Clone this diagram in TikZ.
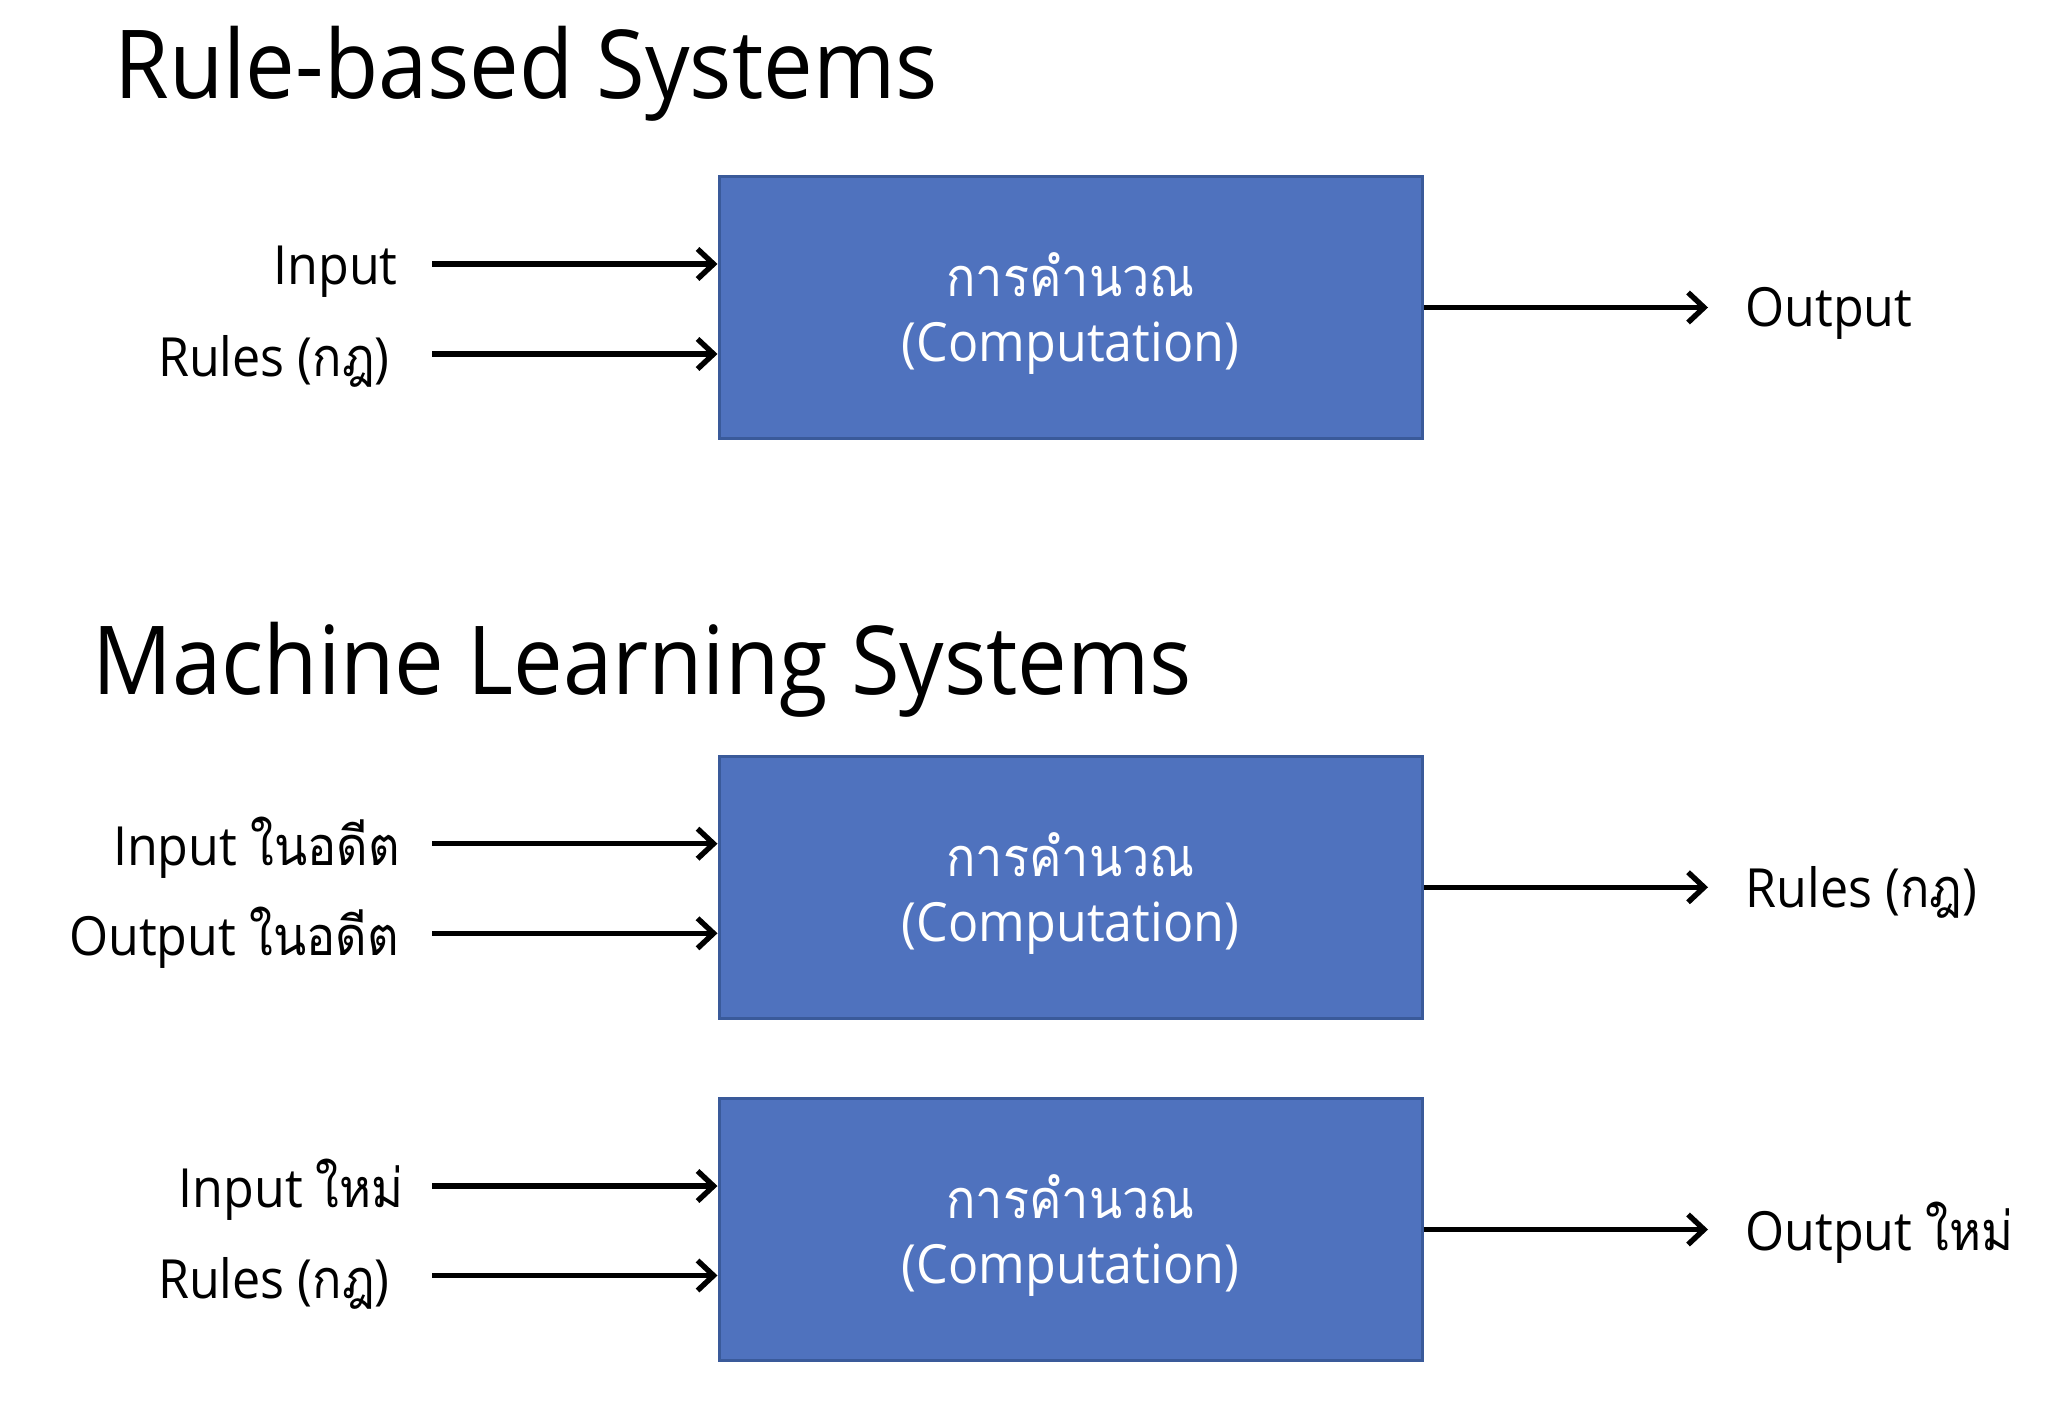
\documentclass[tikz,border=0pt]{standalone}
\usepackage{fontspec}
\setmainfont[FakeStretch=0.93]{Open Sans}
\newfontfamily\thai[Script=Thai,FakeStretch=0.9]{Loma}
\usetikzlibrary{arrows.meta}
\definecolor{boxfill}{HTML}{4F72BE}
\definecolor{boxline}{HTML}{3A5A9A}
\begin{document}
\begin{tikzpicture}[x=0.5pt,y=-0.5pt,
  title/.style={font=\fontsize{47.6pt}{57pt}\selectfont, anchor=base west, inner sep=0pt},
  lbl/.style={font=\fontsize{27pt}{32pt}\selectfont, inner sep=0pt},
  compbox/.style={draw=boxline, line width=1.5pt, fill=boxfill, minimum width=351.5pt, minimum height=131pt, inner sep=0pt},
  boxtext/.style={text=white, align=center, font=\fontsize{27pt}{32.5pt}\selectfont, inner sep=0pt},
  arr/.style={line width=2.7pt, -{Straight Barb[length=8pt,width=15pt,line width=2.7pt]}}]
\useasboundingbox (0,0) rectangle (2064,1406);

% titles
\node[title] (t1) at (114,99) {Rule-based Systems};
\node[title] (t2) at (92,694) {Machine Learning Systems};

% boxes
\node[compbox] (b1) at (1070.5,307.5) {};
\node[compbox] (b2) at (1070.5,887.25) {};
\node[compbox] (b3) at (1070.5,1229.5) {};
\node[boxtext] (c1) at ([yshift=-3pt]b1.center) {{\thai การคำนวณ}\\(Computation)};
\node[boxtext] (c2) at ([yshift=-3pt]b2.center) {{\thai การคำนวณ}\\(Computation)};
\node[boxtext] (c3) at ([yshift=-3pt]b3.center) {{\thai การคำนวณ}\\(Computation)};

% section 1
\node[lbl, anchor=base east] (l1a) at (398,285) {Input};
\node[lbl, anchor=base east] (l1b) at (390,377) {Rules ({\thai กฎ})};
\node[lbl, anchor=base west] (r1) at (1745,327) {Output};
\coordinate (s1a) at (432,264);
\coordinate (s1b) at (432,354);
\coordinate (e1) at (1708,307.5);
\draw[arr] (s1a) -- (s1a -| b1.west);
\draw[arr] (s1b) -- (s1b -| b1.west);
\draw[arr] (b1.east) -- (e1);

% section 2
\node[lbl, anchor=base east] (l2a) at (400,865) {Input {\thai ในอดีต}};
\node[lbl, anchor=base east] (l2b) at (399,955) {Output {\thai ในอดีต}};
\node[lbl, anchor=base west] (r2) at (1745,907) {Rules ({\thai กฎ})};
\coordinate (s2a) at (432,843.7);
\coordinate (s2b) at (432,933.3);
\coordinate (e2) at (1708,887.25);
\draw[arr] (s2a) -- (s2a -| b2.west);
\draw[arr] (s2b) -- (s2b -| b2.west);
\draw[arr] (b2.east) -- (e2);

% section 3
\node[lbl, anchor=base east] (l3a) at (404,1207) {Input {\thai ใหม่}};
\node[lbl, anchor=base east] (l3b) at (390,1298) {Rules ({\thai กฎ})};
\node[lbl, anchor=base west] (r3) at (1745,1250) {Output {\thai ใหม่}};
\coordinate (s3a) at (432,1186);
\coordinate (s3b) at (432,1275.5);
\coordinate (e3) at (1708,1229.5);
\draw[arr] (s3a) -- (s3a -| b3.west);
\draw[arr] (s3b) -- (s3b -| b3.west);
\draw[arr] (b3.east) -- (e3);
\end{tikzpicture}
\end{document}
